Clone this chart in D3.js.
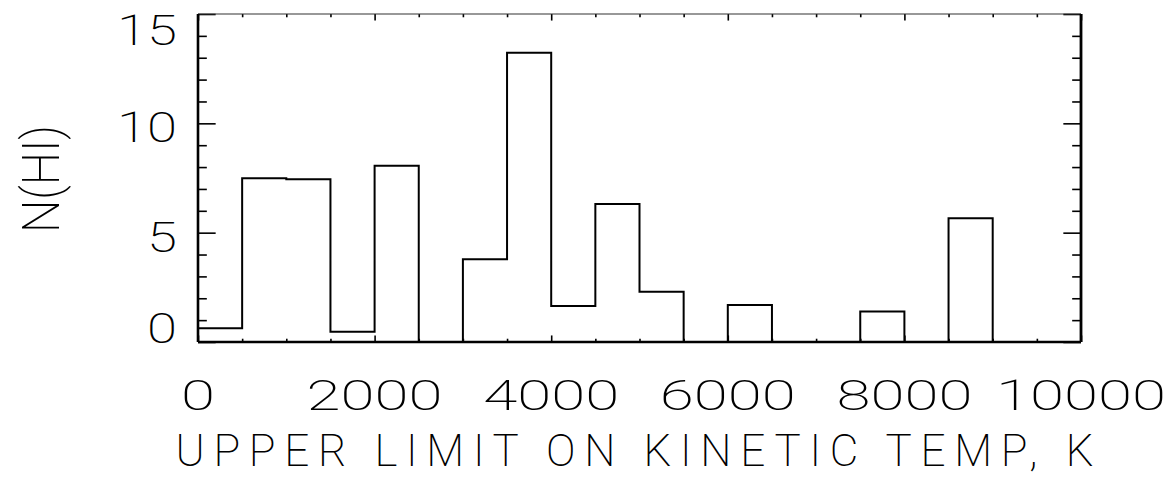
<!DOCTYPE html>
<html>
<head>
<meta charset="utf-8">
<script src="https://cdn.jsdelivr.net/npm/d3@7"></script>
<style>
  html, body { margin: 0; padding: 0; background: #fff; }
  svg { display: block; }
  text { font-family: Roboto, "Open Sans", Lato, "DejaVu Sans", sans-serif; font-weight: 200; fill: #000; }
</style>
</head>
<body>
<svg id="chart" width="1174" height="478"></svg>
<script>
// Histogram of N(HI) against the upper limit on kinetic temperature (500 K bins)
const binStart = [0, 500, 1000, 1500, 2000, 2500, 3000, 3500, 4000, 4500,
                  5000, 5500, 6000, 6500, 7000, 7500, 8000, 8500, 9000, 9500];
const binWidth = 500;
const nHI = [0.63, 7.49, 7.44, 0.47, 8.06, 0, 3.78, 13.23, 1.65, 6.31,
             2.30, 0, 1.69, 0, 0, 1.39, 0, 5.66, 0, 0];

const xMajorTicks = [0, 2000, 4000, 6000, 8000, 10000];
const xMinorStep = 500;
const yMajorTicks = [0, 5, 10, 15];
const yMinorStep = 1;
const xTitle = "UPPER LIMIT ON KINETIC TEMP, K";
const yTitle = "N(HI)";

const plot = { left: 198, right: 1081, top: 14, bottom: 342 };

const svg = d3.select("#chart");
const x = d3.scaleLinear().domain([0, 10000]).range([plot.left, plot.right]);
const y = d3.scaleLinear().domain([0, 15]).range([plot.bottom, plot.top]);

const xMinor = d3.range(0, 10000 + 1, xMinorStep).filter(v => !xMajorTicks.includes(v));
const yMinor = d3.range(0, 15 + 0.001, yMinorStep).filter(v => !yMajorTicks.includes(v));

// tick lengths as a fraction of the plot size, pointing inward
const plotW = plot.right - plot.left, plotH = plot.bottom - plot.top;
const xMajLen = 0.02 * plotH, xMinLen = 0.01 * plotH;
const yMajLen = 0.02 * plotW, yMinLen = 0.01 * plotW;

function tickAxis(axisGen, vals, len, transform) {
  const g = svg.append("g").attr("transform", transform)
    .call(axisGen.tickValues(vals).tickSize(-len).tickFormat(""));
  g.select(".domain").remove();
  g.selectAll(".tick line").attr("stroke", "#000").attr("stroke-width", 1.6);
  return g;
}

// bottom and top ticks
tickAxis(d3.axisBottom(x), xMajorTicks, xMajLen, `translate(0,${plot.bottom})`);
tickAxis(d3.axisBottom(x), xMinor, xMinLen, `translate(0,${plot.bottom})`);
tickAxis(d3.axisTop(x), xMajorTicks, xMajLen, `translate(0,${plot.top})`);
tickAxis(d3.axisTop(x), xMinor, xMinLen, `translate(0,${plot.top})`);
// left and right ticks
tickAxis(d3.axisLeft(y), yMajorTicks, yMajLen, `translate(${plot.left},0)`);
tickAxis(d3.axisLeft(y), yMinor, yMinLen, `translate(${plot.left},0)`);
tickAxis(d3.axisRight(y), yMajorTicks, yMajLen, `translate(${plot.right},0)`);
tickAxis(d3.axisRight(y), yMinor, yMinLen, `translate(${plot.right},0)`);

// frame
const frame = svg.append("g").attr("stroke", "#000").attr("fill", "none");
frame.append("line").attr("x1", plot.left).attr("x2", plot.right)
  .attr("y1", plot.top).attr("y2", plot.top).attr("stroke-width", 1.2).attr("stroke", "#333");
frame.append("line").attr("x1", plot.left).attr("x2", plot.right)
  .attr("y1", plot.bottom).attr("y2", plot.bottom).attr("stroke-width", 2.4);
frame.append("line").attr("x1", plot.left).attr("x2", plot.left)
  .attr("y1", plot.top).attr("y2", plot.bottom).attr("stroke-width", 2.6);
frame.append("line").attr("x1", plot.right).attr("x2", plot.right)
  .attr("y1", plot.top).attr("y2", plot.bottom).attr("stroke-width", 2.8);

// histogram outline (step line)
const steps = binStart.map((s, i) => [s, nHI[i]]);
steps.push([binStart[binStart.length - 1] + binWidth, nHI[nHI.length - 1]]);
const stepLine = d3.line().x(d => x(d[0])).y(d => y(d[1])).curve(d3.curveStepAfter);
svg.append("path")
  .attr("d", stepLine(steps))
  .attr("fill", "none")
  .attr("stroke", "#000")
  .attr("stroke-width", 2)
  .attr("stroke-linejoin", "miter");

// x tick labels
svg.append("g").selectAll("text").data(xMajorTicks).join("text")
  .attr("x", d => x(d))
  .attr("y", 410)
  .attr("text-anchor", "middle")
  .attr("font-size", 42)
  .attr("textLength", d => String(d).length * 34)
  .attr("lengthAdjust", "spacingAndGlyphs")
  .text(d => String(d));

// y tick labels, kept inside the vertical extent of the frame
svg.append("g").selectAll("text").data(yMajorTicks).join("text")
  .attr("x", 177)
  .attr("y", d => Math.max(plot.top + 31, Math.min(plot.bottom + 1, y(d) + 19)))
  .attr("text-anchor", "end")
  .attr("font-size", 42)
  .attr("textLength", d => String(d).length * 30)
  .attr("lengthAdjust", "spacingAndGlyphs")
  .text(d => String(d));

// x axis title
svg.append("text")
  .attr("x", (plot.left + plot.right) / 2 - 5)
  .attr("y", 466)
  .attr("text-anchor", "middle")
  .attr("font-size", 44)
  .attr("textLength", 918)
  .attr("lengthAdjust", "spacing")
  .text(xTitle);

// y axis title
svg.append("g")
  .attr("transform", `translate(59,${(plot.top + plot.bottom) / 2 + 1}) rotate(-90)`)
  .append("text")
  .attr("text-anchor", "middle")
  .attr("font-size", 52)
  .attr("textLength", 108)
  .attr("lengthAdjust", "spacingAndGlyphs")
  .text(yTitle);
</script>
</body>
</html>
